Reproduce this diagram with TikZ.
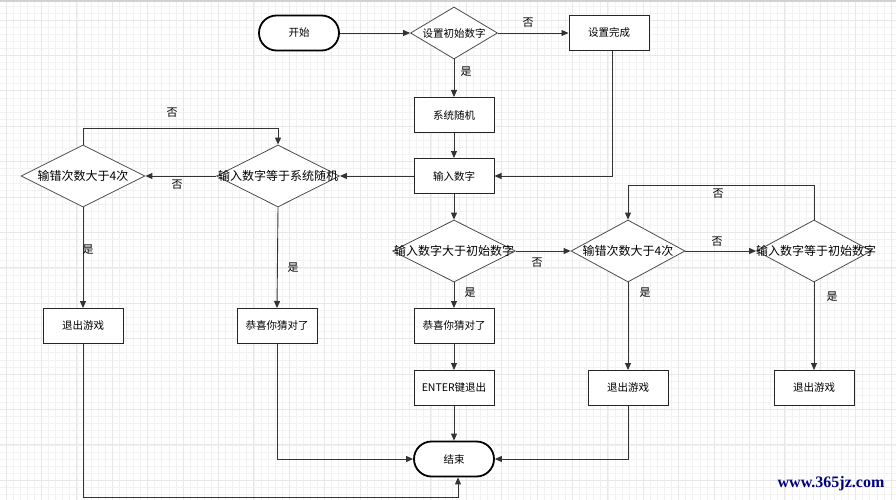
\documentclass[tikz,border=0pt]{standalone}
\usepackage{fontspec}
\newfontfamily\cjk{Noto Sans CJK SC}
\newfontfamily\wmfont{Liberation Serif}
\usetikzlibrary{shapes.geometric,arrows.meta}
\begin{document}
\begin{tikzpicture}[x=1pt,y=-1pt,
 minorgrid/.style={draw=black!5, line width=0.6pt},
 majorgrid/.style={draw=black!9, line width=0.8pt},
 line/.style={draw=black!80, line width=0.9pt},
 arr/.style={line, -{Triangle[length=7pt,width=6pt]}},
 box/.style={draw=black!85, line width=1pt, minimum width=80pt, minimum height=35pt, inner sep=0pt, font=\cjk\fontsize{10.5}{12}\selectfont, fill=white},
 term/.style={box, rounded corners=17.5pt, line width=1.8pt, draw=black},
 dia/.style={diamond, draw=black!70, line width=0.8pt, minimum width=#1, minimum height=62pt, inner sep=0pt, fill=white},
 dtext/.style={font=\cjk\fontsize{12}{14}\selectfont, inner sep=0pt},
 lab/.style={font=\cjk\fontsize{11}{13}\selectfont, inner sep=0pt},
]
\useasboundingbox (0,0) rectangle (896,500);
\fill[white] (0,0) rectangle (896,500);
% grid
\foreach \i in {0,...,127} {\draw[minorgrid] ({-1.08+\i*7.08},0) -- ++(0,500);}
\foreach \i in {0,...,71} {\draw[minorgrid] (0,{-1.24+\i*7.08}) -- ++(896,0);}
\foreach \i in {0,...,25} {\draw[majorgrid] ({6+\i*35.4},0) -- ++(0,500);}
\foreach \i in {0,...,13} {\draw[majorgrid] (0,{20+\i*35.4}) -- ++(896,0);}
\draw[draw=black!18, line width=2pt] (0,1) -- (896,1);

% nodes
\node[term] (start) at (299,33) {开始};
\node[dia=87pt, minimum height=52pt] (d0) at (454,33) {};
\node[font=\cjk\fontsize{10.5}{12}\selectfont, inner sep=0pt] (d0t) at (d0.center) {设置初始数字};
\node[box] (done) at (609,33) {设置完成};
\node[box] (rand) at (454,115) {系统随机};
\node[box] (input) at (454,176) {输入数字};

\node[dia=123pt] (deqs) at (278,176) {};
\node[dtext] (deqst) at (deqs.center) {输入数字等于系统随机};
\node[dia=124pt] (derrl) at (83,176) {};
\node[dtext] (derrlt) at (derrl.center) {输错次数大于4次};

\node[dia=123pt] (dgt) at (454,251) {};
\node[dtext] (dgtt) at (dgt.center) {输入数字大于初始数字};
\node[dia=114pt] (derrr) at (628,251) {};
\node[dtext] (derrrt) at (derrr.center) {输错次数大于4次};
\node[dia=115pt] (deqi) at (814,251) {};
\node[dtext] (deqit) at (816,251) {输入数字等于初始数字};

\node[box] (quitl) at (83,326) {退出游戏};
\node[box] (winl) at (277,326) {恭喜你猜对了};
\node[box] (winm) at (454,326) {恭喜你猜对了};
\node[box] (enter) at (454,388) {ENTER键退出};
\node[box] (quitr) at (628,388) {退出游戏};
\node[box] (quitfr) at (814,388) {退出游戏};
\node[term] (end) at (454,459) {结束};

% connectors
\draw[arr] (start.east) -- (d0.west);
\draw[arr] (d0.east) -- (done.west);
\draw[arr] (d0.south) -- (rand.north);
\draw[arr] ([xshift=3pt]done.south) |- (input.east);
\draw[arr] (rand.south) -- (input.north);
\draw[arr] (input.west) -- (deqs.east);
\draw[arr] (deqs.west) -- (derrl.east);
\coordinate (lpA) at (83,128);
\coordinate (lpB) at (278,128);
\draw[arr] (derrl.north) -- (lpA) -- (lpB) -- (deqs.north);
\draw[arr] (derrl.south) -- (quitl.north);
\draw[arr] (deqs.south) -- (winl.north);
\draw[arr] (input.south) -- (dgt.north);
\draw[arr] (dgt.east) -- (derrr.west);
\draw[arr] (dgt.south) -- (winm.north);
\draw[arr] (winm.south) -- (enter.north);
\draw[arr] (enter.south) -- (end.north);
\draw[arr] (derrr.east) -- (deqi.west);
\coordinate (rpA) at (814,185);
\coordinate (rpB) at (628,185);
\draw[arr] (deqi.north) -- (rpA) -- (rpB) -- (derrr.north);
\draw[arr] (derrr.south) -- (quitr.north);
\draw[arr] (deqi.south) -- (quitfr.north);
\draw[arr] (winl.south) |- (end.west);
\coordinate (bl) at (83,497);
\draw[arr] (quitl.south) -- (bl) -| ([xshift=4pt]end.south);
\draw[arr] (quitr.south) |- (end.east);

% labels
\node[lab] (l1) at (528,23) {否};
\node[lab] (l2) at (466,72) {是};
\node[lab] (l3) at (177,185) {否};
\node[lab] (l4) at (172,113) {否};
\node[lab] (l5) at (88,250) {是};
\node[lab] (l6) at (293,268) {是};
\node[lab] (l7) at (537,263) {否};
\node[lab] (l8) at (470,293) {是};
\node[lab] (l9) at (717,242) {否};
\node[lab] (l10) at (718,194) {否};
\node[lab] (l11) at (645,293) {是};
\node[lab] (l12) at (832,297) {是};

% watermark
\node[font=\wmfont\bfseries\fontsize{16}{18}\selectfont, text=blue!50!black, inner sep=0pt] (wm) at (831,484) {www.365jz.com};
\end{tikzpicture}
\end{document}
